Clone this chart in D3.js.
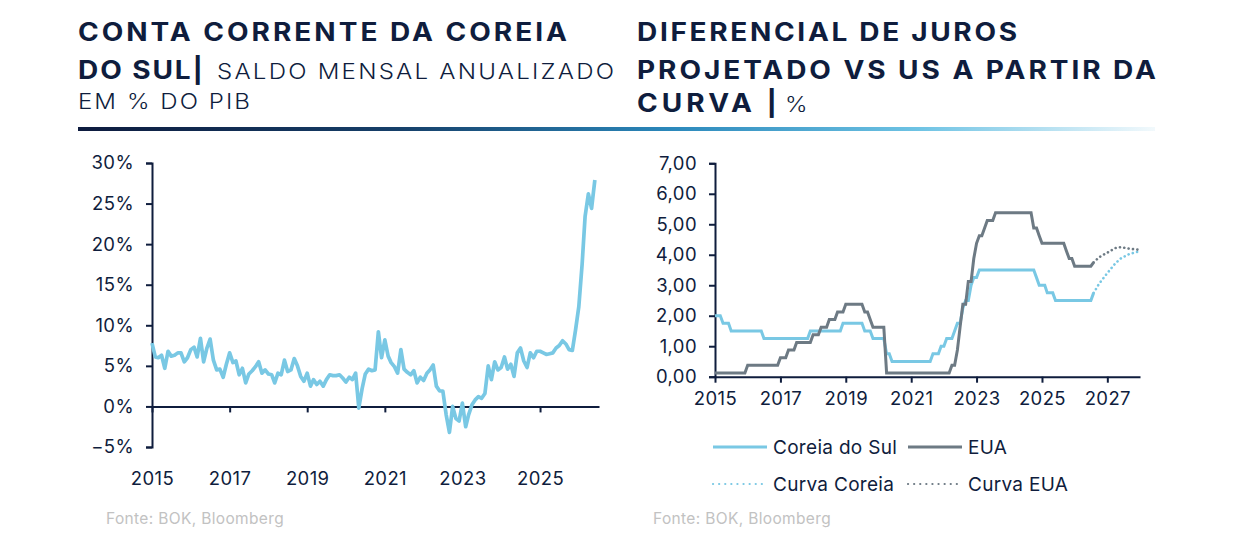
<!DOCTYPE html>
<html>
<head>
<meta charset="utf-8">
<script src="https://cdn.jsdelivr.net/npm/d3@7"></script>
<style>
  html, body { margin: 0; padding: 0; background: #fff; }
  svg { display: block; font-family: Inter, "Noto Sans", sans-serif; }
</style>
</head>
<body>
<svg id="chart" width="1240" height="560"></svg>
<script>
// ---- data ----
// conta corrente, saldo mensal anualizado (% PIB), mensal a partir de jan/2015
var ccStart = new Date(2015, 0, 1);
var ccValues = [
  7.8, 6.1, 6.0, 6.3, 4.7, 6.8, 6.2, 6.3, 6.6, 6.6, 5.5, 6.0,
  7.0, 7.3, 6.1, 8.4, 5.5, 7.2, 8.3, 5.7, 4.5, 4.6, 3.6, 5.2,
  6.6, 5.4, 5.6, 3.9, 4.7, 2.9, 4.0, 4.4, 4.9, 5.5, 4.1, 4.5,
  4.0, 3.9, 2.9, 4.1, 3.9, 5.7, 4.3, 4.5, 5.9, 5.0, 3.7, 3.1,
  4.1, 2.5, 3.3, 2.7, 3.1, 2.5, 3.3, 3.9, 3.8, 3.8, 3.9, 3.5,
  3.0, 3.6, 3.3, 4.1, -0.2, 2.2, 4.0, 4.6, 4.4, 4.5, 9.2, 6.0,
  8.2, 6.2, 5.4, 4.9, 4.1, 7.0, 4.6, 4.2, 3.9, 4.4, 2.9, 3.6,
  3.2, 4.1, 4.5, 5.1, 2.5, 1.9, 1.9, -1.0, -3.2, 0.0, -1.5, -1.8,
  0.4, -2.5, -1.0, 0.2, 0.8, 1.2, 1.0, 1.6, 5.0, 3.3, 5.5, 4.5,
  4.8, 6.1, 4.6, 5.2, 3.7, 6.6, 7.2, 5.6, 4.8, 6.6, 6.0, 6.8,
  6.8, 6.6, 6.4, 6.5, 6.6, 7.2, 7.5, 8.1, 7.7, 7.0, 6.9, 9.4,
  12.3, 17.5, 23.4, 26.2, 24.4, 27.9
];

// juros de politica monetaria (%), mensal a partir de jan/2015
var rateStart = new Date(2015, 0, 1);
var coreiaRate = [
  2.00, 2.00, 2.00, 1.75, 1.75, 1.75, 1.50, 1.50, 1.50, 1.50, 1.50, 1.50,
  1.50, 1.50, 1.50, 1.50, 1.50, 1.50, 1.25, 1.25, 1.25, 1.25, 1.25, 1.25,
  1.25, 1.25, 1.25, 1.25, 1.25, 1.25, 1.25, 1.25, 1.25, 1.25, 1.25, 1.50,
  1.50, 1.50, 1.50, 1.50, 1.50, 1.50, 1.50, 1.50, 1.50, 1.50, 1.50, 1.75,
  1.75, 1.75, 1.75, 1.75, 1.75, 1.75, 1.75, 1.50, 1.50, 1.50, 1.25, 1.25,
  1.25, 1.25, 1.25, 0.75, 0.75, 0.50, 0.50, 0.50, 0.50, 0.50, 0.50, 0.50,
  0.50, 0.50, 0.50, 0.50, 0.50, 0.50, 0.50, 0.50, 0.75, 0.75, 0.75, 1.00,
  1.00, 1.25, 1.25, 1.25, 1.50, 1.75, 1.75, 2.25, 2.50, 2.50, 3.00, 3.25,
  3.25, 3.50, 3.50, 3.50, 3.50, 3.50, 3.50, 3.50, 3.50, 3.50, 3.50, 3.50,
  3.50, 3.50, 3.50, 3.50, 3.50, 3.50, 3.50, 3.50, 3.50, 3.50, 3.25, 3.00,
  3.00, 3.00, 2.75, 2.75, 2.75, 2.50, 2.50, 2.50, 2.50, 2.50, 2.50, 2.50,
  2.50, 2.50, 2.50, 2.50, 2.50, 2.50, 2.50, 2.75
];
var euaRate = [
  0.125, 0.125, 0.125, 0.125, 0.125, 0.125, 0.125, 0.125, 0.125, 0.125, 0.125, 0.125,
  0.375, 0.375, 0.375, 0.375, 0.375, 0.375, 0.375, 0.375, 0.375, 0.375, 0.375, 0.375,
  0.625, 0.625, 0.625, 0.875, 0.875, 0.875, 1.125, 1.125, 1.125, 1.125, 1.125, 1.125,
  1.375, 1.375, 1.375, 1.625, 1.625, 1.625, 1.875, 1.875, 1.875, 2.125, 2.125, 2.125,
  2.375, 2.375, 2.375, 2.375, 2.375, 2.375, 2.375, 2.125, 2.125, 1.875, 1.625, 1.625,
  1.625, 1.625, 1.625, 0.125, 0.125, 0.125, 0.125, 0.125, 0.125, 0.125, 0.125, 0.125,
  0.125, 0.125, 0.125, 0.125, 0.125, 0.125, 0.125, 0.125, 0.125, 0.125, 0.125, 0.125,
  0.125, 0.125, 0.125, 0.375, 0.375, 0.875, 1.625, 2.375, 2.375, 3.125, 3.125, 3.875,
  4.375, 4.625, 4.625, 4.875, 5.125, 5.125, 5.125, 5.375, 5.375, 5.375, 5.375, 5.375,
  5.375, 5.375, 5.375, 5.375, 5.375, 5.375, 5.375, 5.375, 5.375, 4.875, 4.875, 4.625,
  4.375, 4.375, 4.375, 4.375, 4.375, 4.375, 4.375, 4.375, 4.375, 4.125, 3.875, 3.875,
  3.625, 3.625, 3.625, 3.625, 3.625, 3.625, 3.625, 3.75
];

// curvas projetadas
var curveDates = ["2026-08-01", "2026-10-01", "2027-01-01", "2027-04-01", "2027-06-01", "2027-09-01", "2028-01-01"];
var curvaCoreia = [2.75, 3.05, 3.40, 3.72, 3.88, 4.02, 4.12];
var curvaEUA = [3.75, 3.92, 4.07, 4.22, 4.25, 4.20, 4.16];

var leftTicksY = [-5, 0, 5, 10, 15, 20, 25, 30];
var rightTicksY = [0, 1, 2, 3, 4, 5, 6, 7];
var leftYears = [2015, 2017, 2019, 2021, 2023, 2025];
var rightYears = [2015, 2017, 2019, 2021, 2023, 2025, 2027];

// ---- setup ----
var navy = "#0f1d3d",
    blue = "#79c8e4",
    gray = "#6d7a84";

var svg = d3.select("#chart");

var ptBR = d3.formatLocale({decimal: ",", thousands: ".", grouping: [3], currency: ["R$", ""], minus: "\u2212"});

function monthly(start, vals) {
  return vals.map(function(v, i) { return {date: d3.timeMonth.offset(start, i), value: v}; });
}

// gradient for rule line
var defs = svg.append("defs");
var grad = defs.append("linearGradient").attr("id", "rule").attr("x1", "0%").attr("x2", "100%");
grad.append("stop").attr("offset", "0%").attr("stop-color", "#0d1b3e");
grad.append("stop").attr("offset", "30%").attr("stop-color", "#16406a");
grad.append("stop").attr("offset", "55%").attr("stop-color", "#2b88bb");
grad.append("stop").attr("offset", "78%").attr("stop-color", "#6ec3e4");
grad.append("stop").attr("offset", "100%").attr("stop-color", "#f2f9fc");

// ---- titles ----
// [x, y, width, text, bold]
var titles = [
  [78, 41, 489, "CONTA CORRENTE DA COREIA", true],
  [78, 79, 125, "DO SUL|", true],
  [217, 79, 397, "SALDO MENSAL ANUALIZADO", false],
  [78, 109, 172, "EM % DO PIB", false],
  [637, 41, 380, "DIFERENCIAL DE JUROS", true],
  [637, 79, 519, "PROJETADO VS US A PARTIR DA", true],
  [637, 112, 140, "CURVA |", true],
  [785, 112, 17, "%", false]
];
var stretch = 1.12; // letras mais largas, como na fonte original
svg.selectAll("text.title")
  .data(titles)
  .enter().append("text")
  .attr("class", "title")
  .attr("transform", function(d) { return "translate(" + d[0] + "," + d[1] + ") scale(" + stretch + ",1)"; })
  .attr("textLength", function(d) { return d[2] / stretch; })
  .attr("lengthAdjust", "spacing")
  .attr("font-size", function(d) { return d[4] ? 25 : 21.5; })
  .attr("font-weight", function(d) { return d[4] ? 700 : 300; })
  .attr("fill", navy)
  .text(function(d) { return d[3]; });

svg.append("rect")
  .attr("x", 78).attr("y", 127).attr("width", 1077).attr("height", 4)
  .attr("fill", "url(#rule)");

// ---- left chart ----
var xL = d3.scaleTime()
  .domain([new Date(2015, 0, 1), new Date(2026, 6, 10)])
  .range([152, 599]);
var yL = d3.scaleLinear().domain([-5, 30]).range([447, 163]);

var gL = svg.append("g");

gL.append("g")
  .attr("transform", "translate(" + xL.range()[0] + ",0)")
  .call(d3.axisLeft(yL).tickValues(leftTicksY).tickSize(6).tickPadding(12)
    .tickFormat(function(d) { return ptBR.format("d")(d) + "%"; }))
  .call(styleAxis);

gL.append("g")
  .attr("transform", "translate(0," + yL(0) + ")")
  .call(d3.axisBottom(xL).tickValues(leftYears.map(function(y) { return new Date(y, 0, 1); }))
    .tickSize(6).tickSizeOuter(0).tickPadding(yL(-5) - yL(0) + 19)
    .tickFormat(d3.timeFormat("%Y")))
  .call(styleAxis);

gL.append("path")
  .datum(monthly(ccStart, ccValues))
  .attr("fill", "none")
  .attr("stroke", blue)
  .attr("stroke-width", 3.7)
  .attr("stroke-linejoin", "round")
  .attr("d", d3.line().x(function(d) { return xL(d.date); }).y(function(d) { return yL(d.value); }));

// ---- right chart ----
var xR = d3.scaleTime()
  .domain([new Date(2015, 0, 1), new Date(2028, 0, 1)])
  .range([715, 1140]);
var yR = d3.scaleLinear().domain([0, 7]).range([376.7, 163.3]);

var gR = svg.append("g");

gR.append("g")
  .attr("transform", "translate(" + xR.range()[0] + ",0)")
  .call(d3.axisLeft(yR).tickValues(rightTicksY).tickSize(6).tickPadding(12)
    .tickFormat(ptBR.format(".2f")))
  .call(styleAxis);

gR.append("g")
  .attr("transform", "translate(0," + yR(0) + ")")
  .call(d3.axisBottom(xR).tickValues(rightYears.map(function(y) { return new Date(y, 0, 1); }))
    .tickSize(6).tickSizeOuter(0).tickPadding(9)
    .tickFormat(d3.timeFormat("%Y")))
  .call(styleAxis);

var lineR = d3.line().x(function(d) { return xR(d.date); }).y(function(d) { return yR(d.value); });

var curveData = function(vals) {
  return vals.map(function(v, i) { return {date: new Date(curveDates[i] + "T00:00:00"), value: v}; });
};

var series = [
  {name: "Coreia do Sul", data: monthly(rateStart, coreiaRate), color: blue, dotted: false},
  {name: "EUA", data: monthly(rateStart, euaRate), color: gray, dotted: false},
  {name: "Curva Coreia", data: curveData(curvaCoreia), color: blue, dotted: true},
  {name: "Curva EUA", data: curveData(curvaEUA), color: gray, dotted: true}
];

gR.selectAll("path.serie")
  .data(series)
  .enter().append("path")
  .attr("class", "serie")
  .attr("fill", "none")
  .attr("stroke", function(d) { return d.color; })
  .attr("stroke-width", function(d) { return d.dotted ? 2.6 : 3; })
  .attr("stroke-linecap", function(d) { return d.dotted ? "round" : "butt"; })
  .attr("stroke-dasharray", function(d) { return d.dotted ? "0.1,4.3" : null; })
  .attr("d", function(d) { return lineR(d.data); });

// legend
var legendPos = [[713, 447], [908, 447], [713, 484], [908, 484]];
var leg = gR.selectAll("g.leg")
  .data(series)
  .enter().append("g")
  .attr("class", "leg")
  .attr("transform", function(d, i) { return "translate(" + legendPos[i][0] + "," + legendPos[i][1] + ")"; });

leg.append("line")
  .attr("x1", 0).attr("x2", 54)
  .attr("stroke", function(d) { return d.color; })
  .attr("stroke-width", function(d) { return d.dotted ? 2.2 : 3; })
  .attr("stroke-linecap", function(d) { return d.dotted ? "round" : "butt"; })
  .attr("stroke-dasharray", function(d) { return d.dotted ? "0.1,6" : null; });

leg.append("text")
  .attr("x", 60).attr("dy", "0.35em")
  .attr("font-size", 19).attr("letter-spacing", 0.3).attr("fill", navy)
  .text(function(d) { return d.name; });

// fontes
svg.selectAll("text.fonte")
  .data([106, 653])
  .enter().append("text")
  .attr("class", "fonte")
  .attr("x", function(d) { return d; }).attr("y", 524)
  .attr("font-size", 15.5).attr("letter-spacing", 0.35).attr("fill", "#c2c2c2")
  .text("Fonte: BOK, Bloomberg");

function styleAxis(g) {
  g.selectAll(".domain").attr("stroke", navy).attr("stroke-width", 2);
  g.selectAll(".tick line").attr("stroke", navy).attr("stroke-width", 2);
  g.selectAll(".tick text").attr("fill", navy).attr("font-size", 18.5)
    .attr("letter-spacing", 0.4)
    .attr("font-family", "Inter, 'Noto Sans', sans-serif");
}
</script>
</body>
</html>
